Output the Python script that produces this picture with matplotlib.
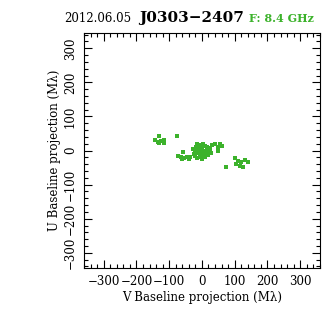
import numpy as np
import matplotlib.pyplot as plt
from matplotlib.ticker import MultipleLocator

# uv points: V (x) and U (y) baseline projections in M-lambda
v_vals = [-143, -135, -125, -115, -117, -130, -131, -77,
          -57, -73, -65, -55, -45, -35, -40, -60,
          -28, -22, -18, -12, -8, -5, 0, 4, 8, 12, 16, 20, 25, 28,
          -20, -14, -6, 2, 10, 18, -25, -10, 5, 15, 22, -15, 0, 10,
          -3, 6, -12, 14, -20, 24, 3,
          32, 40, 48, 55, 60, 49,
          72, 100, 110, 120, 130, 140, 105, 115, 125]
u_vals = [30, 25, 28, 32, 22, 22, 43, 43,
          -4, -15, -20, -22, -20, -18, -24, -24,
          5, -2, 10, -8, 15, 0, 5, -5, 12, -10, 3, -2, 6, -6,
          -15, 18, -18, 20, -20, -14, -10, 8, -12, 10, -8, -22, -24, -18,
          -14, 0, 2, 8, -4, 0, 14,
          15, 20, 10, 18, 12, -2,
          -49, -23, -30, -35, -28, -35, -40, -45, -48]

date_txt = "2012.06.05"
source_txt = "J0303\u22122407"
freq_txt = "F: 8.4 GHz"
green = "#3cb22b"

fig = plt.figure(figsize=(3.36, 3.36), dpi=100)
ax = fig.add_axes([0.25, 0.202, 0.702, 0.70])
ax.plot(v_vals, u_vals, 's', color=green, markersize=3.0, markeredgewidth=0)
ax.set_xlim(-360, 360)
ax.set_ylim(-345, 345)

ax.xaxis.set_major_locator(MultipleLocator(100))
ax.xaxis.set_minor_locator(MultipleLocator(20))
ax.yaxis.set_major_locator(MultipleLocator(100))
ax.yaxis.set_minor_locator(MultipleLocator(20))
ax.tick_params(which='both', direction='in', top=True, right=True, width=0.8)
ax.tick_params(which='major', length=6, labelsize=8.5, pad=5)
ax.tick_params(which='minor', length=3)
for lbl in ax.get_xticklabels() + ax.get_yticklabels():
    lbl.set_family('DejaVu Serif')
for lbl in ax.get_yticklabels():
    lbl.set_rotation(90)
    lbl.set_va('center')
for s in ax.spines.values():
    s.set_linewidth(0.8)

ax.set_xlabel("V Baseline projection (M\u03bb)", family='DejaVu Serif', fontsize=8.5, labelpad=2)
ax.set_ylabel("U Baseline projection (M\u03bb)", family='DejaVu Serif', fontsize=8.5, labelpad=2)

fig.text(0.19, 0.945, date_txt, family='DejaVu Serif', fontsize=8.5, va='center')
fig.text(0.415, 0.945, source_txt, family='DejaVu Serif', fontsize=11, fontweight='bold', va='center')
fig.text(0.74, 0.945, freq_txt, family='DejaVu Serif', fontsize=8, fontweight='bold', color=green, va='center')

fig.savefig('out.png', dpi=100)
